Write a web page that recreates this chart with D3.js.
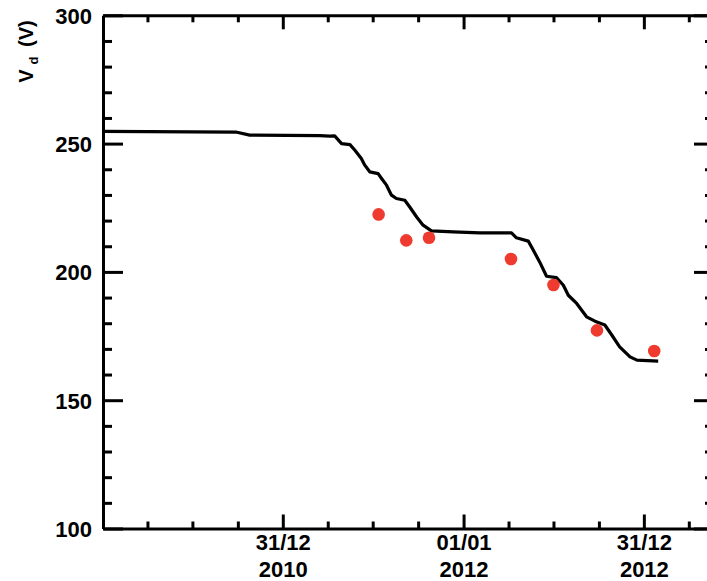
<!DOCTYPE html>
<html>
<head>
<meta charset="utf-8">
<script src="https://cdn.jsdelivr.net/npm/d3@7"></script>
<style>
  html, body { margin: 0; padding: 0; background: #fff; }
  svg { display: block; }
  text { font-family: "Liberation Sans", Arial, Helvetica, sans-serif; font-weight: bold; fill: #000; }
</style>
</head>
<body>
<svg id="chart" width="707" height="581"></svg>
<script>
// Simulated depletion voltage (line) and measured values (points)
const modelDates = [
  "2010-01-01","2010-09-27","2010-10-25","2011-03-16","2011-04-05","2011-04-15",
  "2011-04-29","2011-05-16","2011-05-26","2011-06-08","2011-06-15","2011-06-25",
  "2011-07-12","2011-07-19","2011-07-29","2011-08-08","2011-08-18","2011-09-04",
  "2011-09-14","2011-09-28","2011-10-11","2011-10-28","2011-12-11","2012-02-03",
  "2012-04-07","2012-04-17","2012-05-11","2012-05-21","2012-06-03","2012-06-17",
  "2012-07-07","2012-07-21","2012-07-31","2012-08-17","2012-09-06","2012-09-23",
  "2012-10-13","2012-10-27","2012-11-12","2012-12-03","2012-12-17","2013-01-29"
];
const modelVd = [
  254.8, 254.5, 253.3, 253.1, 252.9, 253.0,
  250.0, 249.6, 247.4, 244.2, 241.6, 239.0,
  238.3, 236.4, 233.8, 229.9, 228.6, 227.9,
  225.3, 221.4, 218.2, 216.0, 215.6, 215.2,
  215.2, 213.3, 212.0, 208.5, 203.9, 198.3,
  197.8, 194.8, 190.9, 187.7, 182.5, 180.8,
  179.3, 175.4, 170.8, 166.9, 165.6, 165.2
];
const measDates = ["2011-07-13","2011-09-07","2011-10-23","2012-04-06","2012-07-01","2012-09-27","2013-01-21"];
const measVd    = [222.4, 212.3, 213.3, 205.0, 194.9, 177.2, 169.2];

// Axis ticks
const xDomain = ["2010-01-01", "2013-05-22"];
const xMajorTicks = ["2010-12-31", "2012-01-01", "2012-12-31"];
const xMajorLabels = [["31/12", "2010"], ["01/01", "2012"], ["31/12", "2012"]];
const xMinorTicks = ["2010-04-01","2010-07-01","2010-10-01","2011-04-01","2011-07-01","2011-10-01",
                     "2012-04-01","2012-07-01","2012-10-01","2013-04-01"];
const yDomain = [100, 300];
const yMajorTicks = [100, 150, 200, 250, 300];
const yMinorTicks = d3.range(110, 300, 10).filter(v => v % 50 !== 0);

const parse = d3.timeParse("%Y-%m-%d");
const svg = d3.select("#chart");

const plotLeft = 103, plotRight = 714, plotTop = 15.3, plotBottom = 528.5;
const x = d3.scaleTime().domain(xDomain.map(parse)).range([plotLeft, plotRight]);
const y = d3.scaleLinear().domain(yDomain).range([plotBottom, plotTop]);

const axisStroke = g => {
  g.selectAll("path.domain").attr("stroke", "#000").attr("stroke-width", 3);
  g.selectAll(".tick line").attr("stroke", "#000").attr("stroke-width", 3);
};

// Left axis: major ticks with labels, minor ticks without
svg.append("g").attr("transform", `translate(${plotLeft},0)`)
  .call(d3.axisLeft(y).tickValues(yMinorTicks).tickSize(-9).tickSizeOuter(0).tickFormat(""))
  .call(axisStroke);
const gLeft = svg.append("g").attr("transform", `translate(${plotLeft},0)`)
  .call(d3.axisLeft(y).tickValues(yMajorTicks).tickSize(-20).tickSizeOuter(0))
  .call(axisStroke);
gLeft.select("path.domain").remove();
gLeft.selectAll(".tick text").attr("font-size", 22).attr("font-family", null)
  .attr("x", -11).attr("dy", "0.36em");

// Right axis (mirrored, no labels)
svg.append("g").attr("transform", `translate(${plotRight},0)`)
  .call(d3.axisRight(y).tickValues(yMinorTicks).tickSize(-9).tickSizeOuter(0).tickFormat(""))
  .call(axisStroke);
svg.append("g").attr("transform", `translate(${plotRight},0)`)
  .call(d3.axisRight(y).tickValues(yMajorTicks).tickSize(-20).tickSizeOuter(0).tickFormat(""))
  .call(axisStroke)
  .select("path.domain").remove();

// Bottom axis
svg.append("g").attr("transform", `translate(0,${plotBottom})`)
  .call(d3.axisBottom(x).tickValues(xMinorTicks.map(parse)).tickSize(-7).tickSizeOuter(0).tickFormat(""))
  .call(axisStroke);
const gBottom = svg.append("g").attr("transform", `translate(0,${plotBottom})`)
  .call(d3.axisBottom(x).tickValues(xMajorTicks.map(parse)).tickSize(-14).tickSizeOuter(0).tickFormat(""))
  .call(axisStroke);
gBottom.select("path.domain").remove();
gBottom.selectAll(".tick").each(function(d, i) {
  const t = d3.select(this).append("text")
    .attr("font-size", 22).attr("text-anchor", "middle").attr("fill", "#000");
  t.append("tspan").attr("x", 0).attr("y", 21.5).text(xMajorLabels[i][0]);
  t.append("tspan").attr("x", 0).attr("y", 48.5).text(xMajorLabels[i][1]);
});

// Top axis (mirrored, no labels)
svg.append("g").attr("transform", `translate(0,${plotTop})`)
  .call(d3.axisTop(x).tickValues(xMinorTicks.map(parse)).tickSize(-7).tickSizeOuter(0).tickFormat(""))
  .call(axisStroke);
svg.append("g").attr("transform", `translate(0,${plotTop})`)
  .call(d3.axisTop(x).tickValues(xMajorTicks.map(parse)).tickSize(-14).tickSizeOuter(0).tickFormat(""))
  .call(axisStroke)
  .select("path.domain").remove();

// Y axis title: V_d (V)
const yTitle = svg.append("text")
  .attr("transform", "translate(33,51.5) rotate(-90)")
  .attr("text-anchor", "middle")
  .attr("font-size", 20);
yTitle.append("tspan").text("V");
yTitle.append("tspan").attr("font-size", 13).attr("dy", 5).attr("dx", 5).text("d");
yTitle.append("tspan").attr("dy", -5).attr("dx", 4).text(" (V)");

// Model curve
const model = modelDates.map((d, i) => ({ date: parse(d), v: modelVd[i] }));
svg.append("path")
  .datum(model)
  .attr("fill", "none")
  .attr("stroke", "#000")
  .attr("stroke-width", 3.2)
  .attr("stroke-linejoin", "round")
  .attr("d", d3.line().x(d => x(d.date)).y(d => y(d.v)));

// Measurements
const meas = measDates.map((d, i) => ({ date: parse(d), v: measVd[i] }));
svg.append("g").selectAll("circle")
  .data(meas)
  .join("circle")
  .attr("cx", d => x(d.date))
  .attr("cy", d => y(d.v))
  .attr("r", 6.3)
  .attr("fill", "#ef3b2f");
</script>
</body>
</html>
